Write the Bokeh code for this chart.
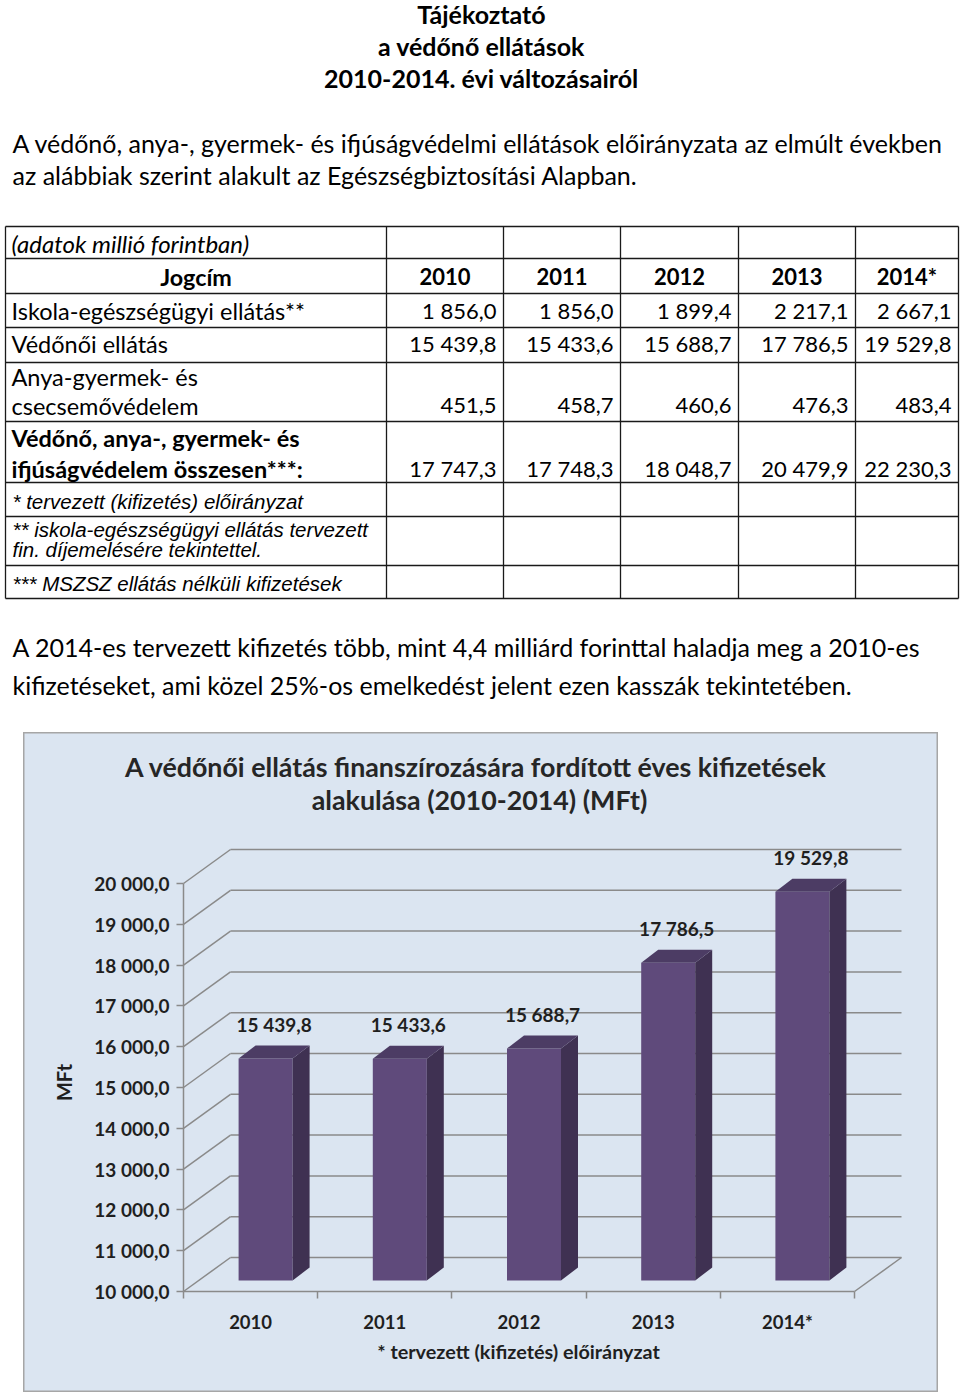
import math
from bokeh.plotting import figure
from bokeh.models import Range1d, FixedTicker, Spacer
from bokeh.layouts import column, row
from bokeh.core.properties import value
from bokeh.embed import file_html
from bokeh.resources import INLINE

# ------------------------------------------------------------------ data
years = ["2010", "2011", "2012", "2013", "2014*"]
iskola = [1856.0, 1856.0, 1899.4, 2217.1, 2667.1]
vedonoi = [15439.8, 15433.6, 15688.7, 17786.5, 19529.8]
anya_csecsemo = [451.5, 458.7, 460.6, 476.3, 483.4]
osszesen = [17747.3, 17748.3, 18048.7, 20479.9, 22230.3]
y_ticks = [10000, 11000, 12000, 13000, 14000, 15000, 16000, 17000, 18000, 19000, 20000]
y_tick_labels = ["10 000,0", "11 000,0", "12 000,0", "13 000,0", "14 000,0", "15 000,0",
                 "16 000,0", "17 000,0", "18 000,0", "19 000,0", "20 000,0"]

title_lines = ["Tájékoztató", "a védőnő ellátások", "2010-2014. évi változásairól"]
intro_lines = ["A védőnő, anya-, gyermek- és ifjúságvédelmi ellátások előirányzata az elmúlt években",
               "az alábbiak szerint alakult az Egészségbiztosítási Alapban."]
closing_lines = ["A 2014-es tervezett kifizetés több, mint 4,4 milliárd forinttal haladja meg a 2010-es",
                 "kifizetéseket, ami közel 25%-os emelkedést jelent ezen kasszák tekintetében."]
unit_note = "(adatok millió forintban)"
head_label = "Jogcím"
row_iskola = "Iskola-egészségügyi ellátás**"
row_vedonoi = "Védőnői ellátás"
row_anya = ["Anya-gyermek- és", "csecsemővédelem"]
row_ossz = ["Védőnő, anya-, gyermek- és", "ifjúságvédelem összesen***:"]
footnotes = ["* tervezett (kifizetés) előirányzat", "** iskola-egészségügyi ellátás tervezett",
             "fin. díjemelésére tekintettel.", "*** MSZSZ ellátás nélküli kifizetések"]
chart_title = ["A védőnői ellátás finanszírozására  fordított éves kifizetések",
               "alakulása (2010-2014) (MFt)"]
chart_note = "* tervezett (kifizetés) előirányzat"
y_title = "MFt"


def hu(v):
    return f"{v:,.1f}".replace(",", " ").replace(".", ",")


BODY = "Lato"
NOTE = "Liberation Sans"

# ------------------------------------------------------------------ document part
DOC_H = 732
doc = figure(width=960, height=DOC_H, x_range=Range1d(0, 960), y_range=Range1d(DOC_H, 0),
             x_axis_location=None, y_axis_location=None, min_border=0, title=None,
             output_backend="svg", toolbar_location=None)
doc.outline_line_color = None
doc.grid.visible = False


def txt(p, xs, ys, texts, size, style="normal", align="left", font=BODY, color="#000000", angle=0):
    p.text(x=xs, y=ys, text=texts, text_font=value(font), text_font_size=f"{size}px",
           text_font_style=style, text_align=align, text_baseline="middle", text_color=color,
           angle=angle)


txt(doc, [481] * 3, [13, 45, 77], title_lines, 25, "bold", "center")
txt(doc, [12, 12], [142, 174], intro_lines, 25)
txt(doc, [12, 12], [646, 684], closing_lines, 25)

col_edges = [5, 386, 503, 620, 738, 855, 958]
row_edges = [226, 258, 293, 327, 362, 421, 482, 516, 565, 598]
doc.segment(x0=[col_edges[0]] * len(row_edges), x1=[col_edges[-1]] * len(row_edges),
            y0=row_edges, y1=row_edges, line_color="#1a1a1a", line_width=1.3)
doc.segment(x0=col_edges, x1=col_edges, y0=[row_edges[0]] * len(col_edges),
            y1=[row_edges[-1]] * len(col_edges), line_color="#1a1a1a", line_width=1.3)

txt(doc, [11], [243], [unit_note], 24, "italic")
txt(doc, [(col_edges[0] + col_edges[1]) / 2], [276], [head_label], 23.3, "bold", "center")
centers_cols = [(col_edges[i] + col_edges[i + 1]) / 2 for i in range(1, 6)]
txt(doc, centers_cols, [276] * 5, years, 22, "bold", "center")
txt(doc, [11, 11, 11, 11], [310, 343, 376, 405], [row_iskola, row_vedonoi] + row_anya, 23.5)
txt(doc, [11, 11], [437, 468], row_ossz, 23.5, "bold")
num_x = [col_edges[i + 1] - 7 for i in range(1, 6)]
txt(doc, num_x, [310] * 5, [hu(v) for v in iskola], 22, align="right")
txt(doc, num_x, [343] * 5, [hu(v) for v in vedonoi], 22, align="right")
txt(doc, num_x, [405] * 5, [hu(v) for v in anya_csecsemo], 22, align="right")
txt(doc, num_x, [468] * 5, [hu(v) for v in osszesen], 22, align="right")
txt(doc, [12] * 4, [501, 529, 549, 583], footnotes, 20.5, "italic", font=NOTE)

# ------------------------------------------------------------------ chart part
PANEL = "#dbe5f1"
GRID = "#8a8a8a"
FRONT = "#5f4a7b"
SIDE = "#3f3152"
TOP = "#4c3c64"
INK = "#1f1f1f"

CAT_PX = 134.2      # pixels per category
VAL_PX = 0.0408     # pixels per MFt
X0_PX, Y0_PX = 183, 1291   # page position of the floor's front-left corner
PANEL_L, PANEL_R, PANEL_T, PANEL_B = 23, 938, DOC_H, 1392


def cx(px):
    return (px - X0_PX) / CAT_PX


def cy(py):
    return y_ticks[0] + (Y0_PX - py) / VAL_PX


chart = figure(width=PANEL_R - PANEL_L, height=PANEL_B - PANEL_T,
               x_range=Range1d(cx(PANEL_L), cx(PANEL_R)), y_range=Range1d(cy(PANEL_B), cy(PANEL_T)),
               min_border=0, title=None, output_backend="svg", toolbar_location=None)
chart.background_fill_color = PANEL
chart.border_fill_color = PANEL
chart.outline_line_color = "#a6a6a6"
chart.outline_line_width = 2
chart.grid.visible = False

n = len(years)
wdx, wdy = 47 / CAT_PX, 34 / VAL_PX
chart.segment(x0=[0] * len(y_ticks), y0=y_ticks, x1=[wdx] * len(y_ticks),
              y1=[t + wdy for t in y_ticks], line_color=GRID, line_width=1.5)
chart.segment(x0=[wdx] * len(y_ticks), y0=[t + wdy for t in y_ticks], x1=[n + wdx] * len(y_ticks),
              y1=[t + wdy for t in y_ticks], line_color=GRID, line_width=1.5)
chart.segment(x0=[n], y0=[y_ticks[0]], x1=[n + wdx], y1=[y_ticks[0] + wdy],
              line_color=GRID, line_width=1.5)

bw = 54 / CAT_PX
fdx, fdy = 15 / CAT_PX, 11 / VAL_PX
ddx, ddy = 17 / CAT_PX, 13 / VAL_PX
lefts = [i + 0.5 - bw / 2 + fdx for i in range(n)]
rights = [l + bw for l in lefts]
tops = [v + fdy for v in vedonoi]
bottoms = [y_ticks[0] + fdy] * n
chart.quad(left=lefts, right=rights, top=tops, bottom=bottoms, fill_color=FRONT, line_color=None)
chart.patches(xs=[[r, r + ddx, r + ddx, r] for r in rights],
              ys=[[b, b + ddy, t + ddy, t] for b, t in zip(bottoms, tops)],
              fill_color=SIDE, line_color=None)
chart.patches(xs=[[l, r, r + ddx, l + ddx] for l, r in zip(lefts, rights)],
              ys=[[t, t, t + ddy, t + ddy] for t in tops],
              fill_color=TOP, line_color=None)
chart.text(x=[i + 0.5 + fdx + ddx / 2 for i in range(n)], y=vedonoi, text=[hu(v) for v in vedonoi],
           y_offset=-45, text_font=value(BODY), text_font_style="bold", text_font_size="19px",
           text_align="center", text_baseline="middle", text_color=INK)

yax = chart.yaxis[0]
yax.fixed_location = 0
yax.ticker = FixedTicker(ticks=y_ticks)
yax.major_label_overrides = {t: l for t, l in zip(y_ticks, y_tick_labels)}
yax.bounds = (y_ticks[0], y_ticks[-1])
yax.major_tick_out = 7
yax.major_tick_in = 0
yax.minor_tick_out = 0
yax.minor_tick_in = 0
yax.axis_line_color = GRID
yax.axis_line_width = 1.5
yax.major_tick_line_color = GRID
yax.major_tick_line_width = 1.5
yax.major_label_standoff = 7
yax.major_label_text_font = BODY
yax.major_label_text_font_style = "bold"
yax.major_label_text_font_size = "19px"
yax.major_label_text_color = INK

xax = chart.xaxis[0]
xax.fixed_location = y_ticks[0]
cat_centers = [i + 0.5 for i in range(n)]
xax.ticker = FixedTicker(ticks=cat_centers, minor_ticks=list(range(n + 1)))
xax.major_label_overrides = {c: y for c, y in zip(cat_centers, years)}
xax.bounds = (0, n)
xax.major_tick_out = 0
xax.major_tick_in = 0
xax.minor_tick_out = 7
xax.minor_tick_in = 0
xax.axis_line_color = GRID
xax.axis_line_width = 1.5
xax.minor_tick_line_color = GRID
xax.minor_tick_line_width = 1.5
xax.major_label_standoff = 12
xax.major_label_text_font = BODY
xax.major_label_text_font_style = "bold"
xax.major_label_text_font_size = "18.5px"
xax.major_label_text_color = INK

txt(chart, [cx(479)] * 2, [cy(766), cy(799)], chart_title, 26.8, "bold", "center", color="#262626")
txt(chart, [cx(518)], [cy(1350)], [chart_note], 19.8, "bold", "center", color=INK)
txt(chart, [cx(63)], [cy(1082)], [y_title], 20, "bold", "center", color=INK, angle=math.pi / 2)

layout = column(doc, row(Spacer(width=PANEL_L, height=PANEL_B - PANEL_T), chart))
open("out.html", "w").write(file_html(layout, INLINE))
